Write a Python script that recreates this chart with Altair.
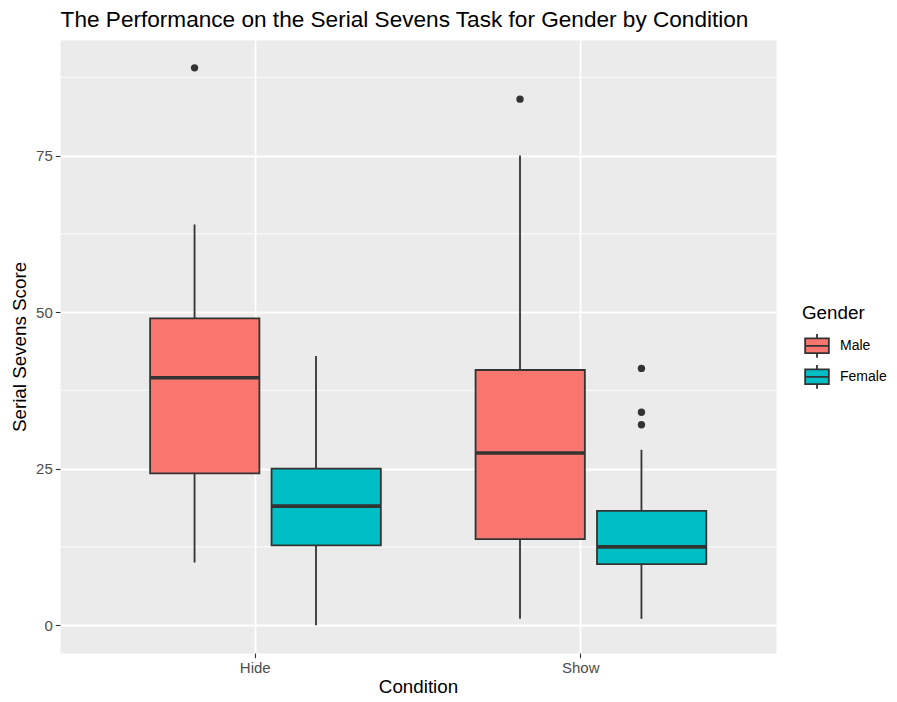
import altair as alt
import pandas as pd

# ---- data ----
conditions = ["Hide", "Hide", "Show", "Show"]
genders = ["Male", "Female", "Male", "Female"]
whisker_low = [10, 0, 1, 1]
q1 = [24.25, 12.75, 13.75, 9.75]
medians = [39.5, 19.0, 27.5, 12.5]
q3 = [49.0, 25.0, 40.75, 18.25]
whisker_high = [64, 43, 75, 28]

outlier_conditions = ["Hide", "Show", "Show", "Show", "Show"]
outlier_genders = ["Male", "Male", "Female", "Female", "Female"]
outlier_values = [89, 84, 41, 34, 32]

major_breaks = [0, 25, 50, 75]
minor_breaks = [12.5, 37.5, 62.5, 87.5]
condition_order = ["Hide", "Show"]
gender_order = ["Male", "Female"]
gender_colors = ["#F8766D", "#00BFC4"]

stats = pd.DataFrame({
    "Condition": conditions, "Gender": genders,
    "lo": whisker_low, "q1": q1, "med": medians, "q3": q3, "hi": whisker_high,
})
outliers = pd.DataFrame({
    "Condition": outlier_conditions, "Gender": outlier_genders, "value": outlier_values,
})
minor = pd.DataFrame({"v": minor_breaks})

FONT = "Liberation Sans"
INK = "#333333"

y_scale = alt.Scale(domain=[-4.45, 93.45], nice=False, zero=False)
x_enc = alt.X(
    "Condition:N", sort=condition_order,
    scale=alt.Scale(paddingInner=0, paddingOuter=0.1),
    axis=alt.Axis(title="Condition", labelAngle=0, grid=True, bandPosition=0.5,
                  gridColor="white", gridWidth=1.8, domain=False,
                  tickColor=INK, tickSize=4.7, tickWidth=1.1,
                  labelColor="#4D4D4D", labelFontSize=15, labelFont=FONT,
                  labelPadding=3, titleFont=FONT, titleFontSize=18.8,
                  titleFontWeight="normal", titleColor="black", titlePadding=2),
)
xo_enc = alt.XOffset("Gender:N", sort=gender_order,
                     scale=alt.Scale(paddingInner=0, paddingOuter=0.34))

y_axis = alt.Axis(title="Serial Sevens Score", values=major_breaks, grid=True,
                  gridColor="white", gridWidth=1.8, domain=False,
                  tickColor=INK, tickSize=4.7, tickWidth=1.1,
                  labelColor="#4D4D4D", labelFontSize=15, labelFont=FONT,
                  labelPadding=3, titleFont=FONT, titleFontSize=18.8,
                  titleFontWeight="normal", titleColor="black", titlePadding=6)

minor_grid = alt.Chart(minor).mark_rule(color="white", strokeWidth=0.9).encode(
    y=alt.Y("v:Q", scale=y_scale, axis=y_axis)
)

base = alt.Chart(stats)

whiskers = base.mark_rule(color=INK, strokeWidth=1.8).encode(
    x=x_enc, xOffset=xo_enc,
    y=alt.Y("lo:Q", scale=y_scale),
    y2="hi:Q",
)

box_path = ("M-0.862,-0.538L0.862,-0.538L0.862,0.538L-0.862,0.538Z "
            "M-0.862,0L0.862,0 M0,-0.538L0,-0.862 M0,0.538L0,0.862")

boxes = base.mark_bar(width=alt.RelativeBandSize(0.9), stroke=INK, strokeWidth=1.8,
                      opacity=1).encode(
    x=x_enc, xOffset=xo_enc,
    y=alt.Y("q1:Q", scale=y_scale),
    y2="q3:Q",
    fill=alt.Fill("Gender:N", sort=gender_order,
                  scale=alt.Scale(domain=gender_order, range=gender_colors),
                  legend=alt.Legend(title="Gender", symbolType=box_path,
                                    symbolSize=756, symbolStrokeColor=INK,
                                    symbolStrokeWidth=1.8, symbolOpacity=1,
                                    orient="none", legendX=742, legendY=264,
                                    titleFont=FONT, titleFontSize=18.8,
                                    titleFontWeight="normal", titleColor="black",
                                    titlePadding=8, labelFont=FONT, labelFontSize=14,
                                    labelColor="black", labelOffset=8, rowPadding=-3,
                                    padding=0)),
)

med_lines = base.mark_bar(width=alt.RelativeBandSize(0.9), stroke=INK,
                          strokeWidth=3.6, fill=INK).encode(
    x=x_enc, xOffset=xo_enc,
    y=alt.Y("med:Q", scale=y_scale),
    y2="med:Q",
)

points = alt.Chart(outliers).mark_circle(size=54, color=INK, opacity=1).encode(
    x=x_enc, xOffset=xo_enc,
    y=alt.Y("value:Q", scale=y_scale),
)

chart = alt.layer(minor_grid, whiskers, boxes, med_lines, points).properties(
    width=716, height=613,
    title=alt.TitleParams(
        text="The Performance on the Serial Sevens Task for Gender by Condition",
        anchor="start", font=FONT, fontSize=22.6, dx=50,
        fontWeight="normal", color="black", offset=8),
    padding={"left": 52, "top": 32, "right": 113, "bottom": 41},
    autosize=alt.AutoSizeParams(type="none"),
).configure_view(fill="#EBEBEB", stroke="transparent")

chart.save("out.html", embed_options={"renderer": "svg", "actions": False})
